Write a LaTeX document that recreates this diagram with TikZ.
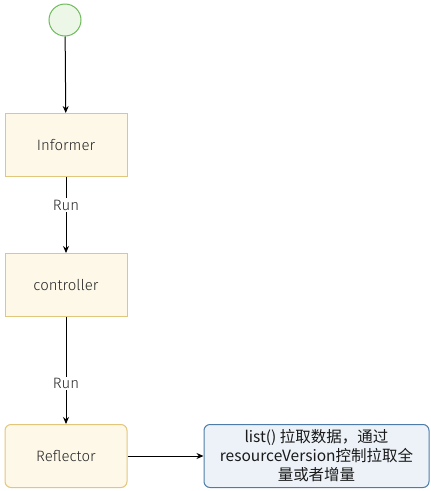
\documentclass[tikz,border=0pt]{standalone}
\usepackage{fontspec}
\setmainfont{Fira Sans Light}
\newfontfamily\cjk{Noto Sans CJK SC}
\usetikzlibrary{arrows.meta}
\definecolor{boxfill}{HTML}{FDF8E8}
\definecolor{boxdraw}{HTML}{E2C67A}
\definecolor{notefill}{HTML}{ECF2F8}
\definecolor{notedraw}{HTML}{4E7CA8}
\definecolor{startfill}{HTML}{EDF7E8}
\definecolor{startdraw}{HTML}{6DBB5A}
\tikzset{
  x=1pt,y=-1pt,
  stepbox/.style={draw=boxdraw,fill=boxfill,line width=1pt,minimum width=122pt,minimum height=63pt,font=\fontsize{15}{17}\selectfont,text=black!85},
  flow/.style={-{Stealth[length=7pt,width=6pt]},line width=1pt,black},
  lbl/.style={fill=white,inner sep=1.5pt,font=\fontsize{15}{17}\selectfont,text=black!85},
}
\begin{document}
\begin{tikzpicture}
\useasboundingbox (0,0) rectangle (431,491);
\node[circle,draw=startdraw,fill=startfill,line width=1pt,minimum size=32pt,inner sep=0pt] (start) at (65,20) {};
\node[stepbox] (inf) at (66,145) {Informer};
\node[stepbox] (ctl) at (66,285) {controller};
\node[stepbox,rounded corners=6pt] (ref) at (66,456) {Reflector};
\node[draw=notedraw,fill=notefill,line width=1pt,rounded corners=6pt,minimum width=225pt,minimum height=63pt,align=center,inner sep=2pt,font=\cjk\fontsize{15.5}{19}\selectfont,text=black!90] (note) at (316.5,456) {list() 拉取数据，通过\\resourceVersion控制拉取全\\量或者增量};
\draw[flow] (start) -- (inf);
\draw[flow] (inf) -- node[lbl,pos=0.37] {Run} (ctl);
\draw[flow] (ctl) -- node[lbl,pos=0.62] {Run} (ref);
\draw[flow] (ref) -- (note);
\end{tikzpicture}
\end{document}
